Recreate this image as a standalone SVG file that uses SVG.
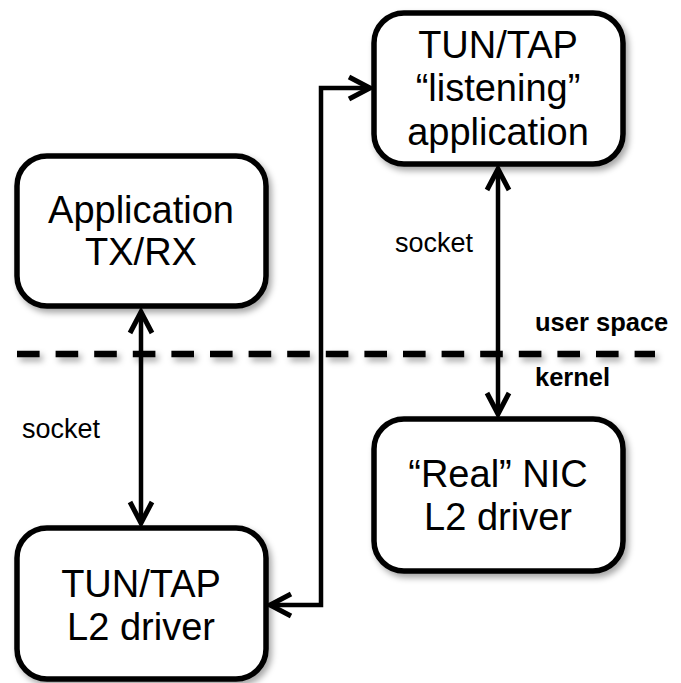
<svg xmlns="http://www.w3.org/2000/svg" width="681" height="683" viewBox="0 0 681 683">
  <defs>
    <filter id="shadow" filterUnits="userSpaceOnUse" x="0" y="0" width="681" height="683">
      <feDropShadow dx="3" dy="4" stdDeviation="3" flood-color="#000" flood-opacity="0.35"/>
    </filter>
    <marker id="arrow" viewBox="-28 -16 34 32" markerWidth="34" markerHeight="32" refX="0" refY="0" markerUnits="userSpaceOnUse" orient="auto-start-reverse">
      <path d="M -21 -11 L 0 0 L -21 11" fill="none" stroke="#000" stroke-width="5" stroke-linejoin="miter" stroke-miterlimit="4"/>
    </marker>
    <style>
      .box { fill: #fff; stroke: #000; stroke-width: 5.5; filter: url(#shadow); }
      .lbl { font-family: "Liberation Sans", Arial, Helvetica, sans-serif; font-size: 38px; fill: #000; text-anchor: middle; }
      .small { font-family: "Liberation Sans", Arial, Helvetica, sans-serif; font-size: 27px; fill: #000; }
      .bold { font-family: "Liberation Sans", Arial, Helvetica, sans-serif; font-size: 25.5px; font-weight: bold; fill: #000; }
      .conn { fill: none; stroke: #000; stroke-width: 4.5; marker-start: url(#arrow); marker-end: url(#arrow); }
    </style>
  </defs>
  <rect width="681" height="683" fill="#fff"/>

  <line x1="17" y1="354" x2="655" y2="354" stroke="#000" stroke-width="6.5" stroke-dasharray="22.6 16" filter="url(#shadow)"/>
  <text class="bold" x="535" y="331">user space</text>
  <text class="bold" x="535" y="386">kernel</text>

  <g id="connectors">
    <line class="conn" x1="141" y1="312" x2="141" y2="523"/>
    <line class="conn" x1="498" y1="169" x2="498" y2="414"/>
    <path class="conn" d="M 370 88 H 321 V 605 H 270"/>
  </g>

  <text class="small" x="22" y="438">socket</text>
  <text class="small" x="395" y="252">socket</text>

  <g id="app">
    <rect class="box" x="17" y="156" width="249" height="150" rx="30"/>
    <text class="lbl" x="141" y="223">Application</text>
    <text class="lbl" x="141" y="265">TX/RX</text>
  </g>
  <g id="listener">
    <rect class="box" x="374" y="13" width="249" height="151" rx="30"/>
    <text class="lbl" x="498" y="58">TUN/TAP</text>
    <text class="lbl" x="498" y="101">“listening”</text>
    <text class="lbl" x="498" y="145">application</text>
  </g>
  <g id="tuntap">
    <rect class="box" x="17" y="528" width="249" height="151" rx="30"/>
    <text class="lbl" x="141" y="597">TUN/TAP</text>
    <text class="lbl" x="141" y="640">L2 driver</text>
  </g>
  <g id="nic">
    <rect class="box" x="374" y="419" width="249" height="152" rx="30"/>
    <text class="lbl" x="498" y="487">“Real” NIC</text>
    <text class="lbl" x="498" y="530">L2 driver</text>
  </g>
</svg>
